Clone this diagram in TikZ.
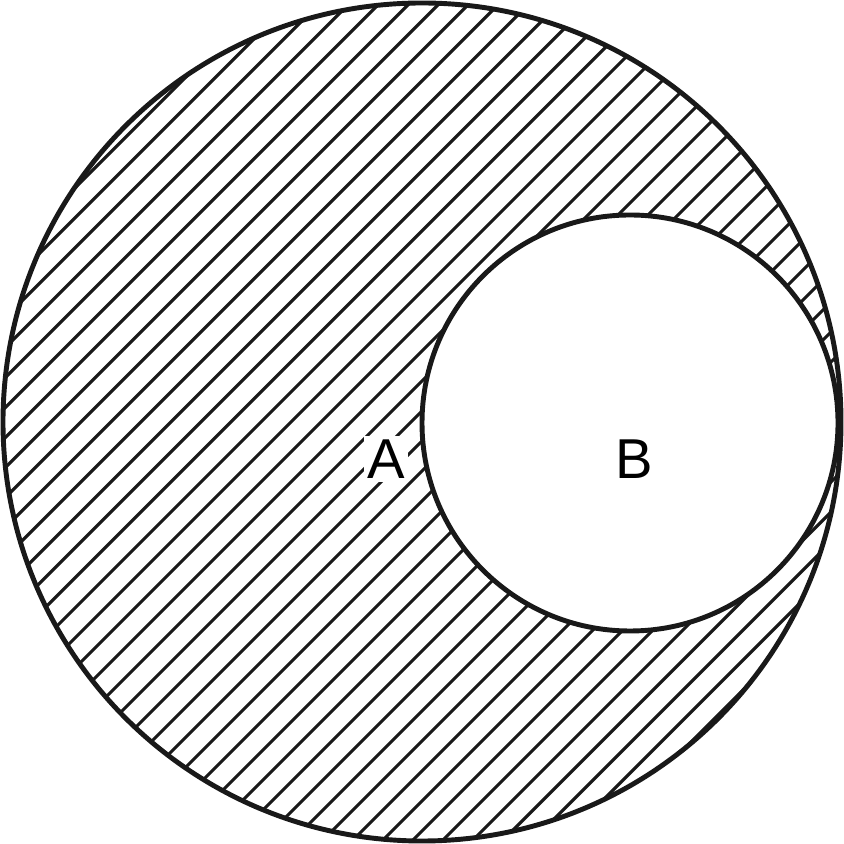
\documentclass[tikz,border=0pt]{standalone}
\usepackage{fontspec}
\setmainfont{Liberation Sans}
\usetikzlibrary{calc}
\tikzset{
  rim/.style={draw=black!90, line width=1.4pt},
  hatch/.style={draw=black!90, line width=0.9pt},
  hole/.style={fill=white, draw=black!90, line width=1.4pt},
  setlabel/.style={font=\fontsize{16}{18}\selectfont, inner sep=1pt},
  maskedlabel/.style={setlabel, fill=white}
}
\begin{document}
\begin{tikzpicture}
  \useasboundingbox (-4.22,-4.22) rectangle (4.22,4.22);
  \coordinate (O) at (0,0);
  \coordinate (C) at (2.08,-0.01);
  % hatching inside the big circle
  \begin{scope}
    \clip (O) circle (4.19);
    \foreach \k in {-46,...,12}
      \draw[hatch] (0.3*\k+0.29,-5) -- ++(10,10);
  \end{scope}
  \draw[hole] (C) circle (2.08);
  \draw[rim] (O) circle (4.19);
  \node[maskedlabel] (A) at (-0.36,-0.37) {A};
  \node[setlabel] (B) at (2.12,-0.37) {B};
\end{tikzpicture}
\end{document}
